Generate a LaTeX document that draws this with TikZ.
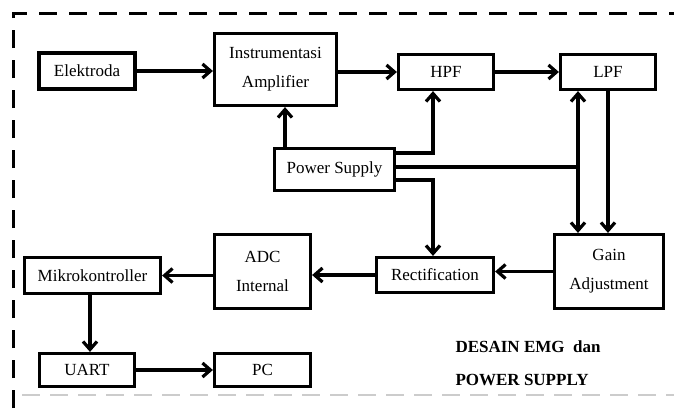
\documentclass[tikz,border=0pt]{standalone}
\usepackage{fontspec}
\setmainfont{Liberation Serif}
\usetikzlibrary{arrows.meta}
\begin{document}
\begin{tikzpicture}[x=1pt, y=-1pt,
    blok/.style={draw, line width=3.2pt, align=center, inner sep=0pt,
      font=\fontsize{17}{29}\selectfont},
    arr/.style={line width=3.2pt, -{Straight Barb[length=8pt,width=14pt]}},
    garis/.style={line width=3.2pt}]
  \useasboundingbox (0,0) rectangle (674,408);
  % bingkai putus-putus
  \draw[line width=3.5pt, dash pattern=on 18pt off 12pt] (13.5,408) -- (13.5,13.5) -- (680,13.5);
  \draw[black!20, line width=2pt, dash pattern=on 18pt off 10pt] (22,395) -- (674,395);
  % blok atas
  \node[blok, minimum width=96, minimum height=36] (elek) at (87,71) {Elektroda};
  \node[blok, minimum width=122, minimum height=72] (ia) at (275.5,69.5) {Instrumentasi\\Amplifier};
  \node[blok, minimum width=95, minimum height=35] (hpf) at (446,72) {HPF};
  \node[blok, minimum width=95, minimum height=35] (lpf) at (608,72) {LPF};
  \node[blok, minimum width=120, minimum height=42] (ps) at (334.5,169.5) {Power Supply};
  % blok bawah
  \node[blok, minimum width=109, minimum height=74] (gain) at (609,271.5) {Gain\\Adjustment};
  \node[blok, minimum width=117, minimum height=35] (rect) at (435,275) {Rectification};
  \node[blok, minimum width=96, minimum height=74] (adc) at (262.5,271.5) {ADC\\Internal};
  \node[blok, minimum width=136, minimum height=36] (mikro) at (92.5,275.5) {Mikrokontroller};
  \node[blok, minimum width=95, minimum height=33] (uart) at (87,370) {UART};
  \node[blok, minimum width=96, minimum height=33] (pc) at (262.5,370) {PC};
  \node[anchor=west, align=left, font=\fontsize{17}{33}\selectfont\bfseries] (judul) at (452,363) {DESAIN EMG\ \ dan\\POWER SUPPLY};
  % jalur sinyal
  \draw[arr] (elek) -- (elek -| ia.west);
  \draw[arr] (ia.east |- hpf) -- (hpf);
  \draw[arr] (hpf) -- (lpf);
  \draw[arr] (lpf.south) -- (lpf.south |- gain.north);
  \draw[arr] (gain.west) -- (gain.west -| rect.east);
  \draw[arr] (rect.west) -- (rect.west -| adc.east);
  \draw[arr] (adc.west |- mikro) -- (mikro.east);
  \draw[arr] ([xshift=-2.5pt]mikro.south) -- ([xshift=-2.5pt]mikro.south |- uart.north);
  \draw[arr] (uart) -- (pc);
  % jalur catu daya
  \coordinate (psia) at ([xshift=9.5pt]ia.south);
  \draw[arr] (psia |- ps.north) -- (psia);
  \draw[arr] ([yshift=16.5pt]ps.east) -| ([xshift=-13pt]hpf.south);
  \draw[arr] ([yshift=-10.5pt]ps.east) -| ([xshift=-2pt]rect.north);
  \coordinate (jn) at (578,167);
  \draw[garis] (ps.east |- jn) -- (jn);
  \draw[arr] (jn) -- (jn |- lpf.south);
  \draw[arr] (jn) -- (jn |- gain.north);
\end{tikzpicture}
\end{document}
